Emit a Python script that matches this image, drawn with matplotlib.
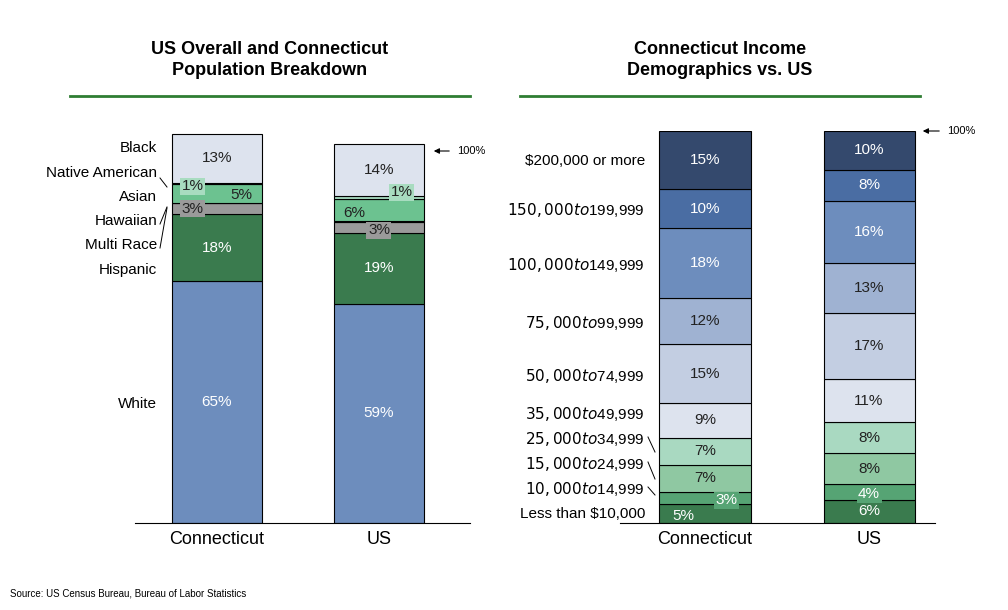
import matplotlib
matplotlib.use("Agg")
import matplotlib.pyplot as plt
import numpy as np

plt.rcParams['font.family'] = ['Liberation Sans', 'DejaVu Sans']

W, H = 1008, 610
def fx(px): return px / W
def fy(py): return 1 - py / H

# ---------- data ----------
race_cats = ["White", "Hispanic", "Multi Race", "Hawaiian", "Asian", "Native American", "Black"]
race_ct = [65, 18, 3, 0.1, 5, 0.4, 13]
race_us = [59, 19, 3, 0.2, 6, 0.8, 14]
race_lbl_ct = ["65%", "18%", "3%", "", "5%", "1%", "13%"]
race_lbl_us = ["59%", "19%", "3%", "", "6%", "1%", "14%"]
race_colors = ["#6d8dbd", "#3a7b4e", "#9a9a9a", "#9a9a9a", "#6cc290", "#a8dcc0", "#dde3ee"]

inc_cats = ["Less than $10,000", "$10,000 to $14,999", "$15,000 to $24,999", "$25,000 to $34,999",
            "$35,000 to $49,999", "$50,000 to $74,999", "$75,000 to $99,999", "$100,000 to $149,999",
            "$150,000 to $199,999", "$200,000 or more"]
inc_ct = [5, 3, 7, 7, 9, 15, 12, 18, 10, 15]
inc_us = [6, 4, 8, 8, 11, 17, 13, 16, 8, 10]
inc_colors = ["#3a7b4e", "#56a474", "#8fc8a2", "#a9d9c1", "#dde3ee", "#c3cee2",
              "#9fb2d2", "#6d8dbd", "#4a6da3", "#34496d"]
inc_txt = ["white", "white", "#222", "#222", "#222", "#222", "#222", "white", "white", "white"]

fig = plt.figure(figsize=(W / 100, H / 100), dpi=100)

# ---------- left chart ----------
axL = fig.add_axes([fx(135), fy(523), fx(335), 392 / H])
axL.set_ylim(0, 392 / 3.72)
axL.set_xlim(-0.506, 1.562)
bw = 0.556
for xi, vals in enumerate([race_ct, race_us]):
    b = np.concatenate([[0], np.cumsum(vals)[:-1]])
    axL.bar([xi] * len(vals), vals, bottom=b, width=bw, color=race_colors,
            edgecolor="black", linewidth=0.8)
axL.set_xticks([0, 1])
axL.set_xticklabels(["Connecticut", "US"], fontsize=13)
axL.tick_params(axis='x', length=0, pad=6)
axL.set_yticks([])
for s in ["top", "left", "right"]:
    axL.spines[s].set_visible(False)

def seg_center(vals, i):
    return sum(vals[:i]) + vals[i] / 2

# offsets (x in data, y in data) for small segment labels
offL = {
    (0, 2): (-0.15, 0, "#9a9a9a", "#222"),
    (0, 4): (0.15, -0.4, None, "#222"),
    (0, 5): (-0.15, -0.8, "#a8dcc0", "#222"),
    (1, 2): (0, -0.8, "#9a9a9a", "#222"),
    (1, 4): (-0.15, -1.0, None, "#222"),
    (1, 5): (0.14, 1.3, "#a8dcc0", "#222"),
}
for xi, (vals, lbls) in enumerate([(race_ct, race_lbl_ct), (race_us, race_lbl_us)]):
    for i, lab in enumerate(lbls):
        if not lab:
            continue
        dx, dy, bg, col = offL.get((xi, i), (0, 0, None, "white" if i < 2 else "#222"))
        bbox = dict(boxstyle="square,pad=0.1", fc=bg, ec="none") if bg else None
        axL.text(xi + dx, seg_center(vals, i) + dy, lab, ha="center", va="center",
                 fontsize=11, color=col, bbox=bbox)

race_label_y = [404, 270, 245, 221, 197, 173, 148]
for cat, py in zip(race_cats, race_label_y):
    fig.text(fx(157), fy(py), cat, ha="right", va="center", fontsize=11)
for (x0, y0, x1, y1) in [(160, 178, 167, 187), (160, 224, 167, 207), (160, 248, 167, 208)]:
    fig.add_artist(plt.Line2D([fx(x0), fx(x1)], [fy(y0), fy(y1)], color="black", lw=0.7))

# 100% marker left
fig.add_artist(matplotlib.patches.FancyArrowPatch((fx(452), fy(151)), (fx(431), fy(151)),
               arrowstyle="-|>", mutation_scale=8, color="black", lw=0.8))
fig.text(fx(457), fy(151), "100%", fontsize=8, va="center")

# ---------- right chart ----------
axR = fig.add_axes([fx(620), fy(523), fx(315), 392 / H])
axR.set_ylim(0, 101)
axR.set_xlim(-0.518, 1.402)
bw2 = 0.555
for xi, vals in enumerate([inc_ct, inc_us]):
    b = np.concatenate([[0], np.cumsum(vals)[:-1]])
    axR.bar([xi] * len(vals), vals, bottom=b, width=bw2, color=inc_colors,
            edgecolor="black", linewidth=0.8)
axR.set_xticks([0, 1])
axR.set_xticklabels(["Connecticut", "US"], fontsize=13)
axR.tick_params(axis='x', length=0, pad=6)
axR.set_yticks([])
for s in ["top", "left", "right"]:
    axR.spines[s].set_visible(False)

offR = {
    (0, 0): (-0.13, -0.6, None),
    (0, 1): (0.13, -0.6, "#56a474"),
    (1, 1): (0, -0.6, "#56a474"),
}
for xi, vals in enumerate([inc_ct, inc_us]):
    for i, v in enumerate(vals):
        dx, dy, bg = offR.get((xi, i), (0, 0, None))
        col = inc_txt[i]
        if xi == 1 and i == 6:
            col = "#222"
        if xi == 0 and i == 6:
            col = "#222"
        bbox = dict(boxstyle="square,pad=0.1", fc=bg, ec="none") if bg else None
        axR.text(xi + dx, seg_center(vals, i) + dy, f"{v}%", ha="center", va="center",
                 fontsize=11, color=col, bbox=bbox)

inc_label_y = [514, 489, 464, 439, 414, 376, 323, 265, 210, 161]
for cat, py in zip(inc_cats, inc_label_y):
    fig.text(fx(645), fy(py), cat, ha="right", va="center", fontsize=11)
for (x0, y0, x1, y1) in [(648, 437, 655, 452), (648, 462, 655, 479), (648, 487, 655, 495)]:
    fig.add_artist(plt.Line2D([fx(x0), fx(x1)], [fy(y0), fy(y1)], color="black", lw=0.7))

fig.add_artist(matplotlib.patches.FancyArrowPatch((fx(942), fy(131)), (fx(920), fy(131)),
               arrowstyle="-|>", mutation_scale=8, color="black", lw=0.8))
fig.text(fx(947), fy(131), "100%", fontsize=8, va="center")

# ---------- titles ----------
fig.text(fx(270), fy(60), "US Overall and Connecticut\nPopulation Breakdown", ha="center",
         va="center", fontsize=13, fontweight="bold", linespacing=1.3)
fig.text(fx(720), fy(60), "Connecticut Income\nDemographics vs. US", ha="center",
         va="center", fontsize=13, fontweight="bold", linespacing=1.3)
for (a, b) in [(70, 470), (520, 920)]:
    fig.add_artist(plt.Line2D([fx(a), fx(b)], [fy(96), fy(96)], color="#2e7d32", lw=2))

fig.text(fx(10), fy(593), "Source: US Census Bureau, Bureau of Labor Statistics", fontsize=7, va="center")

fig.savefig("out.png", dpi=100)
